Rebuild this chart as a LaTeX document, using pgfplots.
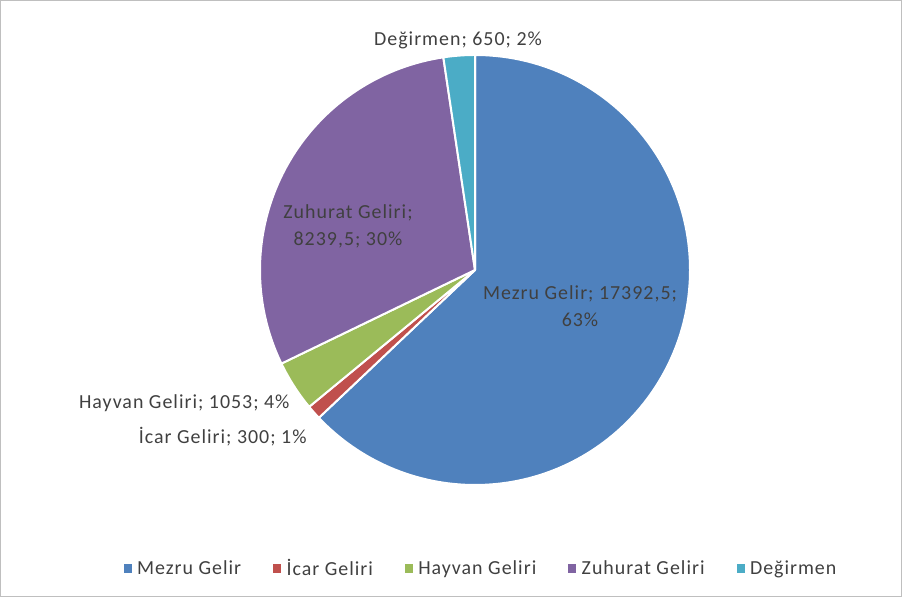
\documentclass[border=0pt]{standalone}
\usepackage{pgfplots}
\usepackage{pgfplotstable}
\pgfplotsset{compat=1.18}
\usepackage{fontspec}
\setmainfont{Carlito}[LetterSpace=5]
\definecolor{cA}{HTML}{4F81BD}
\definecolor{cB}{HTML}{C0504D}
\definecolor{cC}{HTML}{9BBB59}
\definecolor{cD}{HTML}{8064A2}
\definecolor{cE}{HTML}{4BACC6}
\definecolor{txt}{HTML}{404040}
\definecolor{frame}{HTML}{BFBFBF}

\pgfplotstableread[col sep=comma]{
name,value
Mezru Gelir,17392.5
Icar Geliri,300
Hayvan Geliri,1053
Zuhurat Geliri,8239.5
Degirmen,650
}\piedata

\pgfplotstablegetelem{0}{value}\of\piedata \let\vA\pgfplotsretval
\pgfplotstablegetelem{1}{value}\of\piedata \let\vB\pgfplotsretval
\pgfplotstablegetelem{2}{value}\of\piedata \let\vC\pgfplotsretval
\pgfplotstablegetelem{3}{value}\of\piedata \let\vD\pgfplotsretval
\pgfplotstablegetelem{4}{value}\of\piedata \let\vE\pgfplotsretval
\edef\tot{\fpeval{\vA+\vB+\vC+\vD+\vE}}
\def\cx{475}\def\cy{327}\def\R{215}
\edef\aA{90}
\edef\aB{\fpeval{\aA-360*\vA/\tot}}
\edef\aC{\fpeval{\aB-360*\vB/\tot}}
\edef\aD{\fpeval{\aC-360*\vC/\tot}}
\edef\aE{\fpeval{\aD-360*\vD/\tot}}
\edef\aF{\fpeval{\aE-360*\vE/\tot}}
\edef\xA{\fpeval{\cx+\R*cosd(\aA)}}\edef\yA{\fpeval{\cy+\R*sind(\aA)}}
\edef\xB{\fpeval{\cx+\R*cosd(\aB)}}\edef\yB{\fpeval{\cy+\R*sind(\aB)}}
\edef\xC{\fpeval{\cx+\R*cosd(\aC)}}\edef\yC{\fpeval{\cy+\R*sind(\aC)}}
\edef\xD{\fpeval{\cx+\R*cosd(\aD)}}\edef\yD{\fpeval{\cy+\R*sind(\aD)}}
\edef\xE{\fpeval{\cx+\R*cosd(\aE)}}\edef\yE{\fpeval{\cy+\R*sind(\aE)}}

\begin{document}
\begin{tikzpicture}
\begin{axis}[
  scale only axis, width=902bp, height=597bp,
  xmin=0, xmax=902, ymin=0, ymax=597,
  hide axis, clip=false,
  font=\fontsize{20}{27}\selectfont,
  legend columns=5,
  legend style={draw=none, fill=none, text=txt, font=\fontsize{20}{24}\selectfont,
    at={(axis cs:481,29)}, anchor=center,
    /tikz/every odd column/.append style={column sep=4bp},
    /tikz/every even column/.append style={column sep=30bp}},
  legend image code/.code={\fill[#1] (0bp,-4bp) rectangle (7bp,4bp);},
]
\addlegendimage{cA}\addlegendentry{Mezru Gelir}
\addlegendimage{cB}\addlegendentry{İcar Geliri}
\addlegendimage{cC}\addlegendentry{Hayvan Geliri}
\addlegendimage{cD}\addlegendentry{Zuhurat Geliri}
\addlegendimage{cE}\addlegendentry{Değirmen}

\draw[frame, line width=1bp] (axis cs:0.5,0.5) rectangle (axis cs:901.5,596.5);

\filldraw[fill=cA, draw=white, line width=2bp, line join=round] (axis cs:\cx,\cy) -- (axis cs:\xA,\yA) arc[start angle=\aA, end angle=\aB, radius=\R bp] -- cycle;
\filldraw[fill=cB, draw=white, line width=2bp, line join=round] (axis cs:\cx,\cy) -- (axis cs:\xB,\yB) arc[start angle=\aB, end angle=\aC, radius=\R bp] -- cycle;
\filldraw[fill=cC, draw=white, line width=2bp, line join=round] (axis cs:\cx,\cy) -- (axis cs:\xC,\yC) arc[start angle=\aC, end angle=\aD, radius=\R bp] -- cycle;
\filldraw[fill=cD, draw=white, line width=2bp, line join=round] (axis cs:\cx,\cy) -- (axis cs:\xD,\yD) arc[start angle=\aD, end angle=\aE, radius=\R bp] -- cycle;
\filldraw[fill=cE, draw=white, line width=2bp, line join=round] (axis cs:\cx,\cy) -- (axis cs:\xE,\yE) arc[start angle=\aE, end angle=\aF, radius=\R bp] -- cycle;

\node[text=txt, align=center] at (axis cs:458,557) {Değirmen; 650; 2\%};
\node[text=txt, align=center] at (axis cs:348,371) {Zuhurat Geliri;\\8239,5; 30\%};
\node[text=txt, align=center] at (axis cs:580,291) {Mezru Gelir; 17392,5;\\63\%};
\node[text=txt, anchor=east] at (axis cs:293,194) {Hayvan Geliri; 1053; 4\%};
\node[text=txt, anchor=east] at (axis cs:310,160) {İcar Geliri; 300; 1\%};
\end{axis}
\end{tikzpicture}
\end{document}
